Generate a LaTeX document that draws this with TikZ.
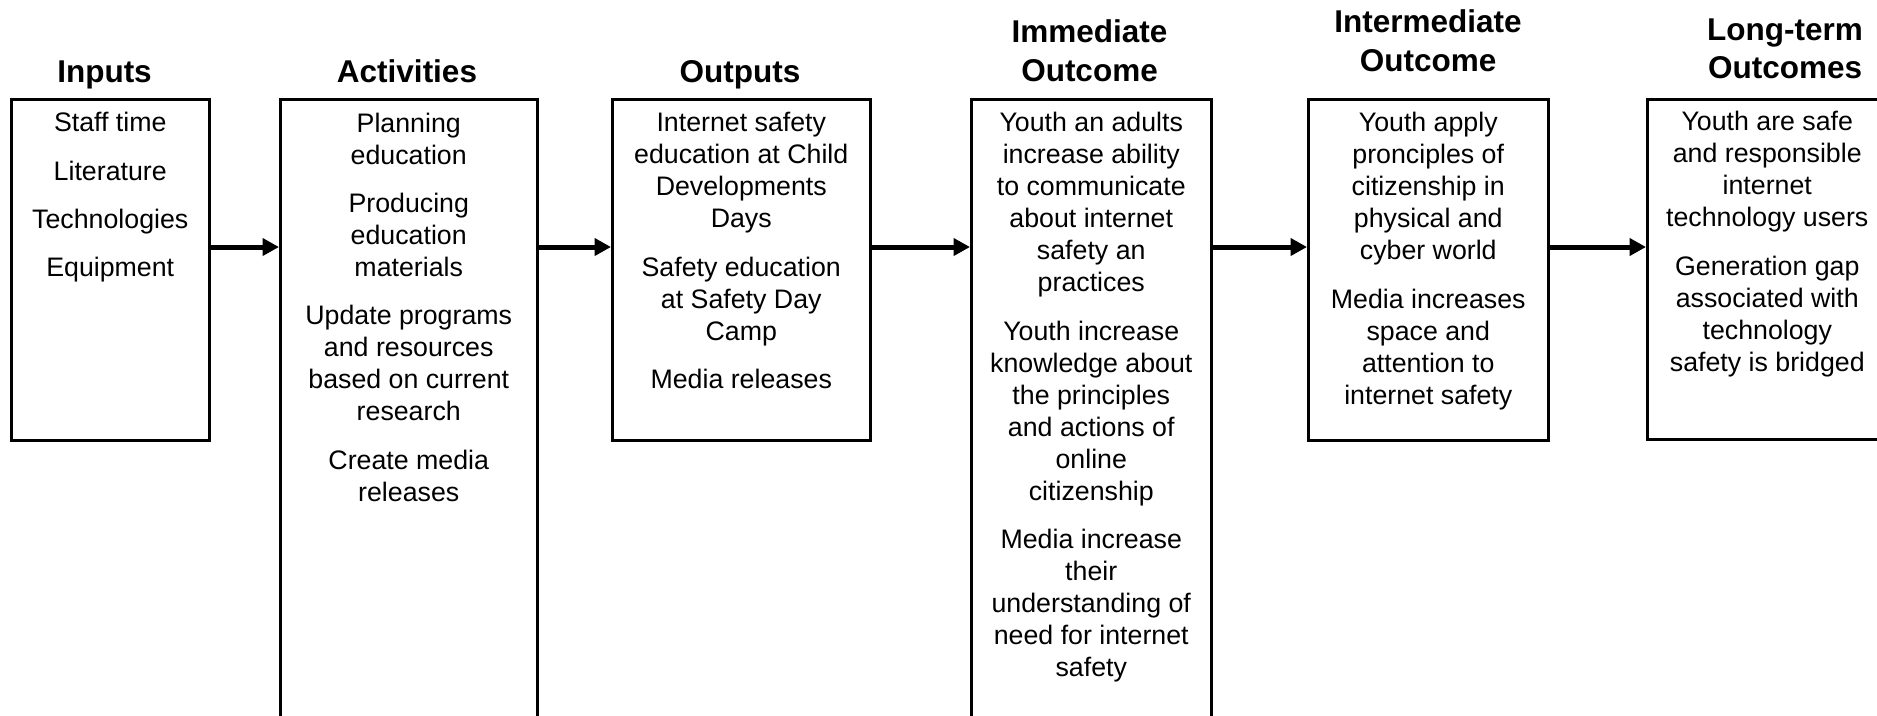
\documentclass[tikz,border=0pt]{standalone}
\usepackage{fontspec}
\setmainfont{Liberation Sans}
\usetikzlibrary{arrows.meta, positioning}
\tikzset{
  stage/.style={draw, line width=1pt, inner sep=0pt, anchor=north west},
  stagetext/.style={anchor=north, align=center, inner sep=0pt, font=\fontsize{10.7}{12.8}\selectfont, execute at begin node=\strut},
  heading/.style={anchor=base, align=center, inner sep=0pt, font=\bfseries\fontsize{12.6}{15.3}\selectfont},
  flowarrow/.style={-{Triangle[length=6.6pt, width=6.8pt]}, line width=2pt}
}
\newcommand{\gap}{\\[6.5pt]}

\begin{document}
\begin{tikzpicture}[x=0.4pt, y=-0.4pt]
\useasboundingbox (0,0) rectangle (1877,715);
% boxes
\node[stage, minimum width=79.2pt, minimum height=136.4pt] (inp) at (10,98) {};
\node[stage, minimum width=102.8pt, minimum height=264.8pt] (act) at (279,98) {};
\node[stage, minimum width=103.2pt, minimum height=136.4pt] (outp) at (611,98) {};
\node[stage, minimum width=96pt, minimum height=264.8pt] (imm) at (970,98) {};
\node[stage, minimum width=96pt, minimum height=136.4pt] (intm) at (1307,98) {};
\node[stage, minimum width=96pt, minimum height=136pt] (lt) at (1646,98) {};
% headings (anchored on the last line)
\node[heading] (inpHead) at (104.5,82) {Inputs};
\node[heading] (actHead) at (407,82) {Activities};
\node[heading] (outpHead) at (740,82) {Outputs};
\node[heading] (immHead) at (1089.5,81) {Immediate\\Outcome};
\node[heading] (intmHead) at (1428,71) {Intermediate\\Outcome};
\node[heading] (ltHead) at (1785,78.4) {Long-term\\Outcomes};
% box contents
\node[stagetext] (inpText) at ([yshift=-5.6pt]inp.north) {Staff time\gap Literature\gap Technologies\gap Equipment};
\node[stagetext] (actText) at ([yshift=-5.8pt]act.north) {Planning\\education\gap Producing\\education\\materials\gap Update programs\\and resources\\based on current\\research\gap Create media\\releases};
\node[stagetext] (outpText) at ([yshift=-5.6pt]outp.north) {Internet safety\\education at Child\\Developments\\Days\gap Safety education\\at Safety Day\\Camp\gap Media releases};
\node[stagetext] (immText) at ([yshift=-5.6pt]imm.north) {Youth an adults\\increase ability\\to communicate\\about internet\\safety an\\practices\gap Youth increase\\knowledge about\\the principles\\and actions of\\online\\citizenship\gap Media increase\\their\\understanding of\\need for internet\\safety};
\node[stagetext] (intmText) at ([yshift=-5.6pt]intm.north) {Youth apply\\pronciples of\\citizenship in\\physical and\\cyber world\gap Media increases\\space and\\attention to\\internet safety};
\node[stagetext] (ltText) at ([yshift=-5.2pt]lt.north) {Youth are safe\\and responsible\\internet\\technology users\gap Generation gap\\associated with\\technology\\safety is bridged};
% arrows
\coordinate (flow) at (0,247);
\draw[flowarrow] (inp.east |- flow) -- (act.west |- flow);
\draw[flowarrow] (act.east |- flow) -- (outp.west |- flow);
\draw[flowarrow] (outp.east |- flow) -- (imm.west |- flow);
\draw[flowarrow] (imm.east |- flow) -- (intm.west |- flow);
\draw[flowarrow] (intm.east |- flow) -- (lt.west |- flow);
\end{tikzpicture}
\end{document}
